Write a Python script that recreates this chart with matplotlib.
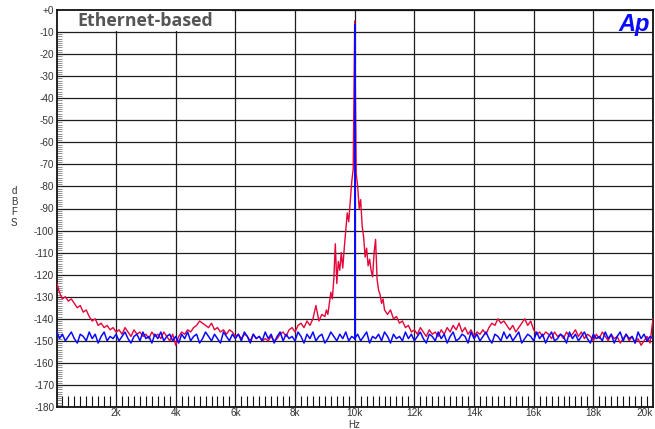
import numpy as np
import matplotlib
matplotlib.use("Agg")
import matplotlib.pyplot as plt
from matplotlib.ticker import MultipleLocator, FixedLocator
from matplotlib.patches import Rectangle

# ---------------- data (frequencies in kHz, levels in dBFS) ----------------
red_db_low = [  # 0.02 kHz, then 0.1 .. 8.9 kHz
    -124, -128, -131, -130, -132, -131, -133, -135, -134, -137,
    -136, -139, -141, -140, -143, -142, -144, -143, -145, -144,
    -146, -145, -147, -144, -146, -148, -145, -147, -146, -148,
    -147, -149, -146, -148, -147, -149, -146, -148, -150, -147,
    -152, -148, -146, -147, -145, -146, -144, -143, -141, -142,
    -143, -144, -142, -145, -144, -146, -145, -147, -145, -146,
    -148, -147, -149, -147, -148, -150, -147, -149, -148, -150,
    -149, -150, -148, -150, -149, -147, -146, -148, -145, -144,
    -146, -143, -142, -144, -141, -143, -140, -134, -141, -138,
]
red_db_peak = [  # 9.00 .. 11.00 kHz in 0.05 kHz steps
    -139, -136, -138, -133, -128, -131, -122, -106, -124, -114,
    -118, -110, -117, -108, -100, -92, -96, -87, -78, -72,
    -5,
    -74, -80, -90, -86, -98, -103, -112, -108, -116, -113,
    -118, -121, -110, -104, -122, -127, -129, -133, -131, -136,
]
red_db_high = [  # 11.1 .. 20.0 kHz
    -138, -136, -140, -139, -142, -141, -144, -143, -146,
    -145, -147, -144, -146, -148, -145, -147, -146, -148, -145,
    -147, -144, -146, -143, -145, -142, -146, -144, -147, -145,
    -148, -146, -147, -145, -147, -144, -142, -143, -140, -142,
    -141, -143, -145, -143, -146, -144, -142, -140, -143, -141,
    -145, -147, -146, -148, -146, -147, -149, -146, -148, -147,
    -149, -146, -148, -147, -145, -148, -146, -149, -147, -148,
    -150, -147, -149, -146, -148, -150, -147, -149, -148, -151,
    -149, -147, -150, -148, -151, -149, -152, -150, -148, -151,
    -140,
]
blue_db = [  # 0.02 kHz, then 0.1 .. 20.0 kHz
    -146, -149, -147, -150, -148, -146, -149, -151, -147, -148, -150, -146, -149, -147, -151, -148, -146, -150, -148, -149,
    -147, -150, -148, -146, -149, -151, -148, -147, -150, -146, -149, -148, -151, -147, -149, -146, -150, -148, -147, -150,
    -148, -151, -147, -149, -146, -150, -148, -147, -151, -149, -146, -148, -150, -147, -149, -151, -146, -148, -150, -147,
    -149, -147, -150, -146, -148, -151, -147, -149, -148, -150, -146, -149, -147, -151, -148, -146, -150, -147, -149, -148,
    -150, -146, -148, -151, -147, -149, -146, -150, -148, -147, -151, -149, -146, -148, -150, -147, -149, -146, -150, -148,
    -149, -147, -150, -148, -146, -151, -148, -149, -147, -150, -146, -148, -151, -147, -149, -148, -150, -146, -149, -147,
    -150, -148, -146, -149, -151, -147, -148, -150, -146, -149, -147, -151, -148, -146, -150, -149, -147, -148, -151, -146,
    -149, -147, -150, -148, -146, -149, -151, -147, -148, -150, -146, -149, -147, -150, -148, -146, -151, -149, -147, -148,
    -150, -146, -149, -147, -151, -148, -146, -150, -149, -147, -148, -151, -146, -149, -147, -150, -148, -146, -149, -151,
    -147, -149, -148, -150, -146, -149, -147, -151, -148, -146, -150, -147, -149, -148, -151, -146, -149, -147, -150, -148,
    -149,
]
tone_khz = 10.0
blue_tone_db = [-149, -7]

x_ticks = [2, 4, 6, 8, 10, 12, 14, 16, 18, 20]
x_labels = ["2k", "4k", "6k", "8k", "10k", "12k", "14k", "16k", "18k", "20k"]
y_ticks = list(range(0, -190, -10))
y_labels = ["+0"] + [str(v) for v in y_ticks[1:]]

# frequency bins
red_f_low = np.concatenate([[0.02], np.round(np.arange(1, 90) * 0.1, 2)])
red_f_peak = np.round(9.0 + np.arange(41) * 0.05, 2)
red_f_high = np.round(np.arange(111, 201) * 0.1, 2)
red_f = np.concatenate([red_f_low, red_f_peak, red_f_high])
red_db = np.array(red_db_low + red_db_peak + red_db_high, dtype=float)
blue_f = np.concatenate([[0.02], np.round(np.arange(1, 201) * 0.1, 2)])

# ---------------- figure ----------------
W, H = 655, 429
fig = plt.figure(figsize=(W / 100, H / 100), dpi=100)
ax = fig.add_axes([57 / W, (H - 407) / H, (653 - 57) / W, (407 - 10) / H])
ax.set_axisbelow(True)

RED = "#e5053a"
BLUE = "#0a0aff"
ax.plot(red_f, red_db, color=RED, lw=1.0, zorder=3)
ax.plot(blue_f, blue_db, color=BLUE, lw=1.1, zorder=4)
ax.plot([tone_khz, tone_khz], blue_tone_db, color=BLUE, lw=1.4, zorder=4)

ax.set_xlim(0.02, 20.0)
ax.set_ylim(-180, 0)

ax.xaxis.set_major_locator(FixedLocator(x_ticks))
ax.set_xticklabels(x_labels)
ax.yaxis.set_major_locator(FixedLocator(y_ticks))
ax.set_yticklabels(y_labels)
ax.xaxis.set_minor_locator(MultipleLocator(0.2))
ax.yaxis.set_minor_locator(MultipleLocator(1))

ax.grid(True, which="major", color="#1e1e1e", lw=0.9)
ax.tick_params(which="major", direction="in", length=0, labelsize=7.2,
               colors="#333333", pad=2)
ax.tick_params(axis="x", which="major", pad=0.8)
ax.tick_params(axis="x", which="minor", direction="in", length=8, width=0.8,
               color="#111111", top=False)
ax.tick_params(axis="y", which="minor", direction="in", length=3.5, width=0.5,
               color="#666666", right=False)
for lbl in ax.get_xticklabels() + ax.get_yticklabels():
    lbl.set_fontfamily(["Liberation Sans", "DejaVu Sans"])
ax.get_xticklabels()[-1].set_horizontalalignment("right")

for sp in ax.spines.values():
    sp.set_color("#111111")
    sp.set_linewidth(1.3)

# title box
ax.add_patch(Rectangle((0, (407 - 31) / 397), (232 - 57) / 596, 1 - (407 - 31) / 397,
                       transform=ax.transAxes, facecolor="white", edgecolor="none",
                       zorder=1))
ax.text((145 - 57) / 596, 1 - (21 - 10) / 397, "Ethernet-based", transform=ax.transAxes,
        ha="center", va="center", fontsize=12.8, fontweight="bold",
        family=["Open Sans", "DejaVu Sans"], color="#555555", zorder=5)

# Ap logo
ax.text((650 - 57) / 596, 1 - (24 - 10) / 397, "Ap", transform=ax.transAxes,
        ha="right", va="center", fontsize=17, fontweight="bold", style="italic",
        family=["Liberation Sans", "DejaVu Sans"], color=BLUE, zorder=5)

fig.text(14 / W, 1 - 207 / H, "d\nB\nF\nS", ha="center", va="center", fontsize=7,
         family=["Liberation Sans", "DejaVu Sans"], color="#333333", linespacing=1.1)
fig.text(354 / W, 1 - 425 / H, "Hz", ha="center", va="center", fontsize=7,
         family=["Liberation Sans", "DejaVu Sans"], color="#333333")

fig.savefig("out.png", dpi=100)
